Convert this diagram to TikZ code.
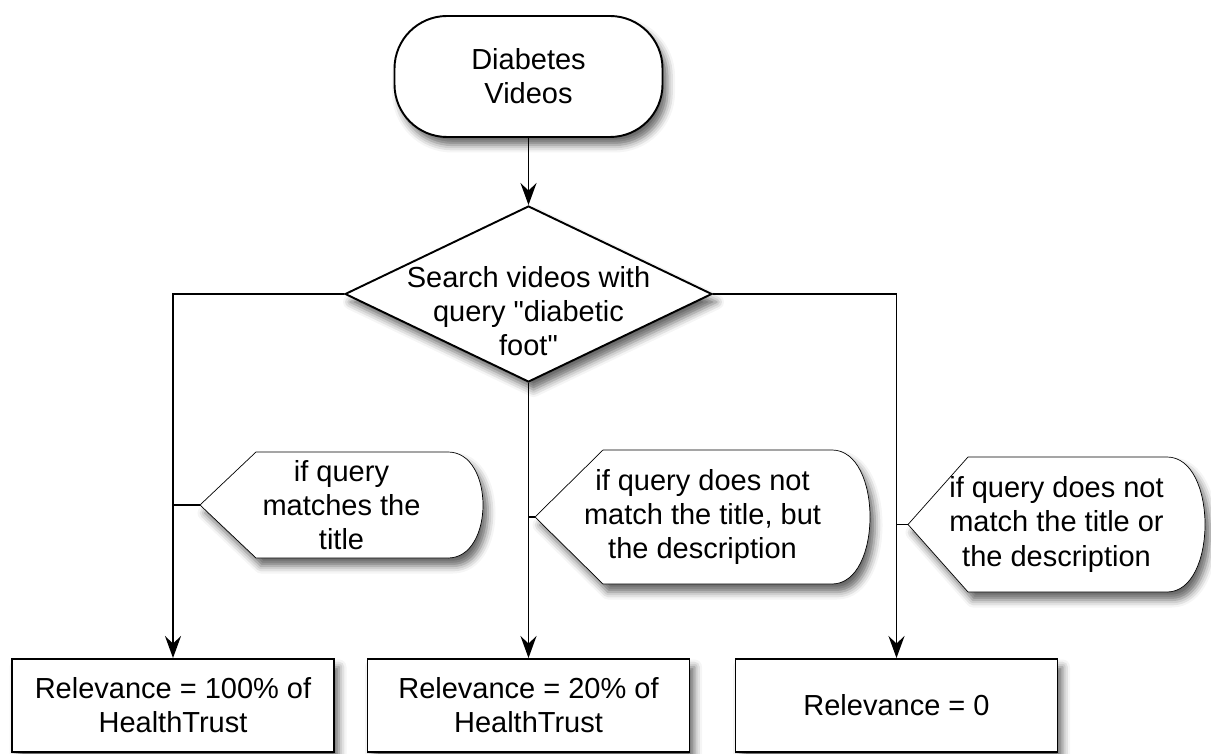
\documentclass[tikz,border=0pt]{standalone}
\usepackage{fontspec}
\setmainfont{Liberation Sans}
\usetikzlibrary{shapes,arrows.meta,shadows.blur,backgrounds}

\tikzstyle{softshadow} = [blur shadow={shadow xshift=0.1cm, shadow yshift=-0.16cm,
    shadow blur radius=0.15cm, shadow opacity=60}]
\tikzstyle{terminal} = [rectangle, draw, fill=white, softshadow, rounded corners=1.05cm,
    align=center, minimum width=5.36cm, minimum height=2.42cm]
\tikzstyle{decision} = [diamond, draw, fill=white, softshadow, align=center, aspect=2.085,
    inner xsep=-0.5cm, inner ysep=-0.7cm, text height=70pt,
    minimum width=7.34cm, minimum height=3.52cm]
\tikzstyle{block} = [rectangle, draw, fill=white, softshadow, align=center,
    minimum width=6.44cm, minimum height=1.86cm]
\tikzstyle{condition} = [rectangle, align=center, inner sep=0pt, outer sep=0pt]
\tikzstyle{condshape} = [draw, fill=white, softshadow]
\tikzstyle{line} = [draw, -{Stealth[length=0.44cm, width=0.32cm, inset=0.15cm]}]

% outline of a condition: pointed on the left, round on the right
\newcommand{\condoutline}[3]{%
  \path[condshape] (#1.west) -- ([xshift=#2]#1.north west) -- ([xshift=-#3]#1.north east)
    .. controls ([xshift=#3/3]#1.north east) and ([xshift=#3/3]#1.south east) .. ([xshift=-#3]#1.south east)
    -- ([xshift=#2]#1.south west) -- cycle;}

\begin{document}
\begin{tikzpicture}[line width=1.1pt, every node/.style={font=\fontsize{16.5}{19.4}\selectfont}]
\useasboundingbox (0,0) rectangle (24.22,-15.08);

\node [terminal] at (10.57,-1.53) (start) {Diabetes\\Videos};
\node [decision] at (10.57,-5.88) (search) {Search videos with\\query \textquotedbl diabetic\\foot\textquotedbl};

\node [condition, minimum width=5.66cm, minimum height=2.12cm] at (6.83,-10.10) (title) {if query\\matches the\\title};
\node [condition, minimum width=6.70cm, minimum height=2.68cm] at (14.05,-10.34) (descr) {if query does not\\match the title, but\\the description};
\node [condition, minimum width=5.94cm, minimum height=2.70cm] at (21.13,-10.49) (neither) {if query does not\\match the title or\\the description};

\node [block] at (3.46,-14.11) (full) {Relevance = 100\% of\\HealthTrust};
\node [block] at (10.57,-14.11) (part) {Relevance = 20\% of\\HealthTrust};
\node [block] at (17.93,-14.11) (zero) {Relevance = 0};

\begin{scope}[on background layer]
\condoutline{title}{1.12cm}{0.7cm}
\condoutline{descr}{1.36cm}{0.76cm}
\condoutline{neither}{1.2cm}{0.76cm}
\end{scope}

\draw [line] (start) -- (search);
\draw [line] (search.west) -| (full.north);
\draw [line] (search.south) -- (part.north);
\draw [line] (search.east) -| (zero.north);
\draw (title.west) -- (title.west -| full.north);
\draw (descr.west) -- (descr.west -| part.north);
\draw (neither.west) -- (neither.west -| zero.north);
\end{tikzpicture}
\end{document}
